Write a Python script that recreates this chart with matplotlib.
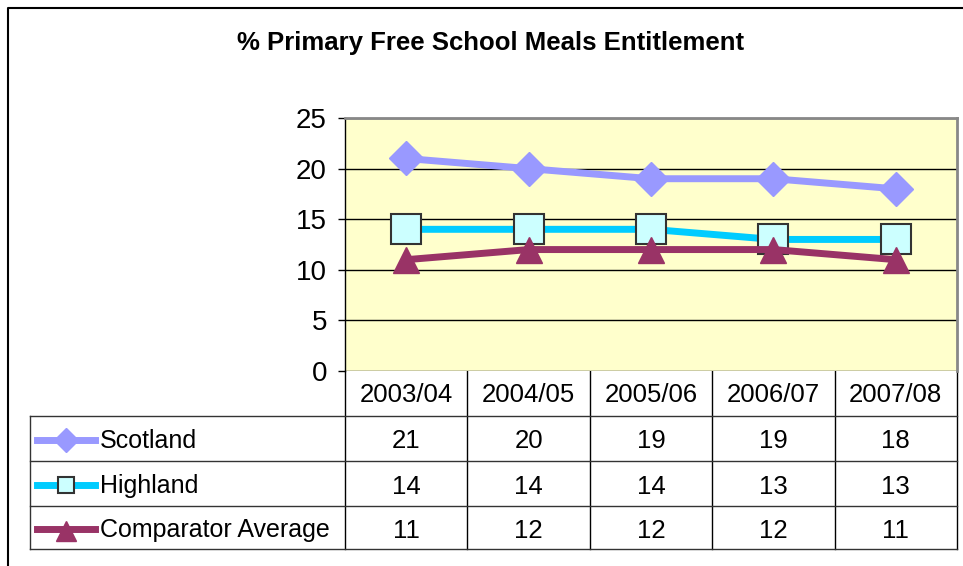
import matplotlib.pyplot as plt
from matplotlib.lines import Line2D

plt.rcParams["font.family"] = ["Liberation Sans", "DejaVu Sans"]

years = ["2003/04", "2004/05", "2005/06", "2006/07", "2007/08"]
scotland = [21, 20, 19, 19, 18]
highland = [14, 14, 14, 13, 13]
comparator = [11, 12, 12, 12, 11]
series_names = ["Scotland", "Highland", "Comparator Average"]
yticks = [0, 5, 10, 15, 20, 25]

W, H = 963, 566
styles = [
    dict(color="#9999FF", marker="D", markersize=17, markerfacecolor="#9999FF",
         markeredgecolor="#9999FF", linewidth=5),
    dict(color="#00CCFF", marker="s", markersize=21, markerfacecolor="#CCFFFF",
         markeredgecolor="#333333", markeredgewidth=1.5, linewidth=5),
    dict(color="#993366", marker="^", markersize=19, markerfacecolor="#993366",
         markeredgecolor="#993366", linewidth=5),
]
values = [scotland, highland, comparator]

fig = plt.figure(figsize=(W / 100, H / 100), dpi=100)

# pixel-space overlay for the frame and the data table
bg = fig.add_axes([0, 0, 1, 1])
bg.set_xlim(0, W)
bg.set_ylim(H, 0)
bg.axis("off")

# plot area in pixels
x0, x1, ytop, ybot = 345, 957, 118, 371
ax = fig.add_axes([x0 / W, 1 - ybot / H, (x1 - x0) / W, (ybot - ytop) / H])
ax.set_facecolor("#FFFFCC")
n = len(years)
for vals, st in zip(values, styles):
    ax.plot(range(n), vals, clip_on=False, zorder=3, **st)
ax.set_xlim(-0.5, n - 0.5)
ax.set_ylim(0, 25)
ax.set_yticks(yticks)
ax.set_xticks([])
ax.yaxis.grid(True, color="black", linewidth=1)
ax.set_axisbelow(True)
ax.tick_params(axis="y", length=5, width=1, labelsize=20, pad=8)
for side in ["top", "right"]:
    ax.spines[side].set_color("#888888")
    ax.spines[side].set_linewidth(2)
ax.spines["left"].set_linewidth(1)
ax.spines["bottom"].set_visible(False)

# outer chart frame
bg.plot([8, 8, W], [H, 8, 8], color="black", linewidth=1.5)

fig.text(0.5 * (230 + 752) / W, 1 - 43 / H, "% Primary Free School Meals Entitlement",
         ha="center", va="center", fontsize=18.5, fontweight="bold")

# data table
col_w = (x1 - x0) / n
col_x = [x0 + i * col_w for i in range(n + 1)]
row_y = [371, 416, 461, 506, 549]
lc = "#333333"
for cx in col_x:
    bg.plot([cx, cx], [row_y[0], row_y[-1]], color="black", linewidth=1)
bg.plot([30, 30], [row_y[1], row_y[-1]], color=lc, linewidth=1)
for ry in row_y[1:]:
    bg.plot([30, x1], [ry, ry], color=lc, linewidth=1)

for i, yr in enumerate(years):
    bg.text((col_x[i] + col_x[i + 1]) / 2, (row_y[0] + row_y[1]) / 2 + 1, yr,
            ha="center", va="center", fontsize=18.5)

for r, (name, vals, st) in enumerate(zip(series_names, values, styles)):
    cy = (row_y[r + 1] + row_y[r + 2]) / 2
    bg.add_line(Line2D([37, 95], [cy + 1, cy + 1], color=st["color"], linewidth=5))
    key = dict(st)
    key.pop("color")
    key.pop("linewidth")
    key["markersize"] = {"D": 12, "s": 12, "^": 14}[st["marker"]]
    bg.plot([66], [cy + (3 if st["marker"] == "^" else 1)], linestyle="none", **key)
    bg.text(100, cy + 3, name, ha="left", va="center", fontsize=18)
    for i, v in enumerate(vals):
        bg.text((col_x[i] + col_x[i + 1]) / 2, cy + 3, str(v),
                ha="center", va="center", fontsize=18.5)

fig.savefig("out.png", dpi=100)
